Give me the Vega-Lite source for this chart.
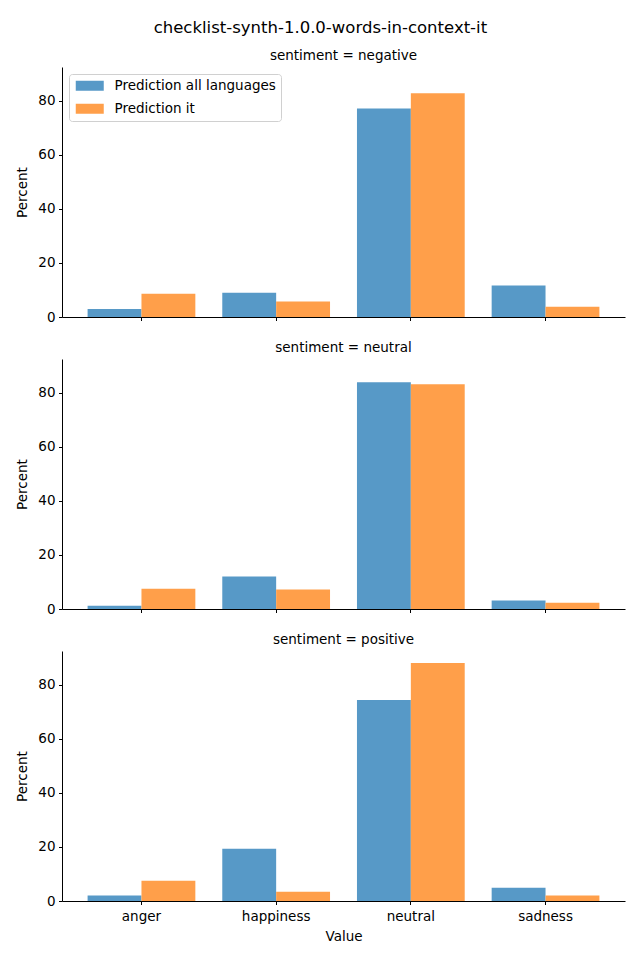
{
  "$schema": "https://vega.github.io/schema/vega-lite/v6.json",
  "title": {"text": "checklist-synth-1.0.0-words-in-context-it", "fontSize": 16.5, "font": "DejaVu Sans", "fontWeight": "normal", "anchor": "middle", "offset": 12, "color": "black"},
  "padding": {"left": 15, "top": 20, "right": 15, "bottom": 15},
  "background": "white",
  "data": {"values": [
    {"sentiment": "negative", "Value": "anger", "model": "Prediction all languages", "Percent": 3.0},
    {"sentiment": "negative", "Value": "anger", "model": "Prediction it", "Percent": 8.6},
    {"sentiment": "negative", "Value": "happiness", "model": "Prediction all languages", "Percent": 9.0},
    {"sentiment": "negative", "Value": "happiness", "model": "Prediction it", "Percent": 5.7},
    {"sentiment": "negative", "Value": "neutral", "model": "Prediction all languages", "Percent": 77.1},
    {"sentiment": "negative", "Value": "neutral", "model": "Prediction it", "Percent": 82.7},
    {"sentiment": "negative", "Value": "sadness", "model": "Prediction all languages", "Percent": 11.6},
    {"sentiment": "negative", "Value": "sadness", "model": "Prediction it", "Percent": 3.8},
    {"sentiment": "neutral", "Value": "anger", "model": "Prediction all languages", "Percent": 1.2},
    {"sentiment": "neutral", "Value": "anger", "model": "Prediction it", "Percent": 7.5},
    {"sentiment": "neutral", "Value": "happiness", "model": "Prediction all languages", "Percent": 12.0},
    {"sentiment": "neutral", "Value": "happiness", "model": "Prediction it", "Percent": 7.2},
    {"sentiment": "neutral", "Value": "neutral", "model": "Prediction all languages", "Percent": 83.8},
    {"sentiment": "neutral", "Value": "neutral", "model": "Prediction it", "Percent": 83.1},
    {"sentiment": "neutral", "Value": "sadness", "model": "Prediction all languages", "Percent": 3.1},
    {"sentiment": "neutral", "Value": "sadness", "model": "Prediction it", "Percent": 2.3},
    {"sentiment": "positive", "Value": "anger", "model": "Prediction all languages", "Percent": 2.0},
    {"sentiment": "positive", "Value": "anger", "model": "Prediction it", "Percent": 7.5},
    {"sentiment": "positive", "Value": "happiness", "model": "Prediction all languages", "Percent": 19.3},
    {"sentiment": "positive", "Value": "happiness", "model": "Prediction it", "Percent": 3.4},
    {"sentiment": "positive", "Value": "neutral", "model": "Prediction all languages", "Percent": 74.3},
    {"sentiment": "positive", "Value": "neutral", "model": "Prediction it", "Percent": 88.0},
    {"sentiment": "positive", "Value": "sadness", "model": "Prediction all languages", "Percent": 4.9},
    {"sentiment": "positive", "Value": "sadness", "model": "Prediction it", "Percent": 2.0}
  ]},
  "config": {
    "font": "DejaVu Sans",
    "view": {"stroke": null},
    "axis": {"labelFont": "DejaVu Sans", "titleFont": "DejaVu Sans", "labelFontSize": 13.5, "titleFontSize": 13.5, "titleFontWeight": "normal", "labelColor": "black", "titleColor": "black", "domainColor": "black", "tickColor": "black", "grid": false, "tickSize": 3.5, "labelPadding": 3.5, "domainWidth": 1, "tickWidth": 1},
    "title": {"font": "DejaVu Sans", "fontWeight": "normal", "color": "black"},
    "legend": {"labelFont": "DejaVu Sans", "labelFontSize": 13.5, "labelColor": "black", "labelLimit": 400}
  },
  "spacing": 16,
  "resolve": {"scale": {"color": "independent"}, "legend": {"color": "independent"}},
  "vconcat": [
    {
      "width": 563, "height": 250,
      "title": {"text": "sentiment = negative", "fontSize": 13.5, "offset": 5, "anchor": "middle"},
      "transform": [{"filter": "datum.sentiment === 'negative'"}],
      "mark": {"type": "bar"},
      "encoding": {
        "x": {"field": "Value", "type": "nominal", "sort": ["anger", "happiness", "neutral", "sadness"], "scale": {"paddingInner": 0.2, "paddingOuter": 0.19}, "axis": {"title": null, "labels": false}},
        "xOffset": {"field": "model", "type": "nominal", "sort": ["Prediction all languages", "Prediction it"], "scale": {"paddingInner": 0, "paddingOuter": 0}},
        "y": {"field": "Percent", "type": "quantitative", "scale": {"domain": [0, 92.4], "nice": false}, "axis": {"title": "Percent", "values": [0, 20, 40, 60, 80], "titlePadding": 8}},
        "color": {"field": "model", "type": "nominal", "scale": {"domain": ["Prediction all languages", "Prediction it"], "range": ["#5799c7", "#ff9f4a"]},
          "legend": {"title": null, "orient": "top-left", "offset": 7, "padding": 5, "strokeColor": "#d0d0d0", "fillColor": "white", "cornerRadius": 3, "symbolType": "M-2.8,-1L2.8,-1L2.8,1L-2.8,1Z", "symbolSize": 100, "symbolStrokeWidth": 0, "symbolOpacity": 1, "symbolOffset": 9, "labelOffset": 18, "rowPadding": 8}}
      }
    },
    {
      "width": 563, "height": 250,
      "title": {"text": "sentiment = neutral", "fontSize": 13.5, "offset": 5, "anchor": "middle"},
      "transform": [{"filter": "datum.sentiment === 'neutral'"}],
      "mark": {"type": "bar"},
      "encoding": {
        "x": {"field": "Value", "type": "nominal", "sort": ["anger", "happiness", "neutral", "sadness"], "scale": {"paddingInner": 0.2, "paddingOuter": 0.19}, "axis": {"title": null, "labels": false}},
        "xOffset": {"field": "model", "type": "nominal", "sort": ["Prediction all languages", "Prediction it"], "scale": {"paddingInner": 0, "paddingOuter": 0}},
        "y": {"field": "Percent", "type": "quantitative", "scale": {"domain": [0, 92.4], "nice": false}, "axis": {"title": "Percent", "values": [0, 20, 40, 60, 80], "titlePadding": 8}},
        "color": {"field": "model", "type": "nominal", "scale": {"domain": ["Prediction all languages", "Prediction it"], "range": ["#5799c7", "#ff9f4a"]}, "legend": null}
      }
    },
    {
      "width": 563, "height": 250,
      "title": {"text": "sentiment = positive", "fontSize": 13.5, "offset": 5, "anchor": "middle"},
      "transform": [{"filter": "datum.sentiment === 'positive'"}],
      "mark": {"type": "bar"},
      "encoding": {
        "x": {"field": "Value", "type": "nominal", "sort": ["anger", "happiness", "neutral", "sadness"], "scale": {"paddingInner": 0.2, "paddingOuter": 0.19}, "axis": {"title": "Value", "labelAngle": 0, "labelPadding": 4.5, "titlePadding": 7}},
        "xOffset": {"field": "model", "type": "nominal", "sort": ["Prediction all languages", "Prediction it"], "scale": {"paddingInner": 0, "paddingOuter": 0}},
        "y": {"field": "Percent", "type": "quantitative", "scale": {"domain": [0, 92.4], "nice": false}, "axis": {"title": "Percent", "values": [0, 20, 40, 60, 80], "titlePadding": 8}},
        "color": {"field": "model", "type": "nominal", "scale": {"domain": ["Prediction all languages", "Prediction it"], "range": ["#5799c7", "#ff9f4a"]}, "legend": null}
      }
    }
  ]
}
